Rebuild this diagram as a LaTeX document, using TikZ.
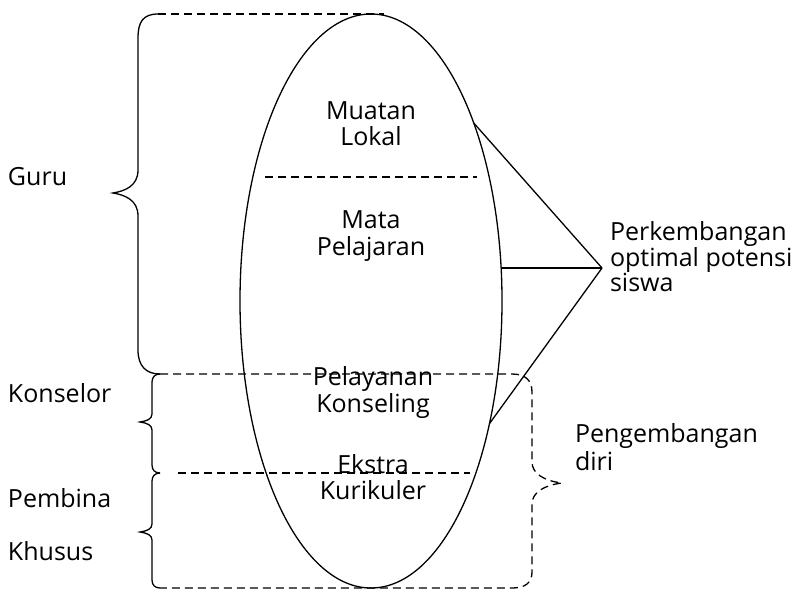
\documentclass[tikz,border=0pt]{standalone}
\usepackage{fontspec}
\setmainfont{Open Sans}
\usetikzlibrary{shapes.geometric}
\begin{document}
\begin{tikzpicture}[x=1pt,y=-1pt,
  line width=1.3pt,
  dsh/.style={dash pattern=on 8pt off 5pt},
  lbl/.style={inner sep=0pt, outer sep=0pt, font=\fontsize{25}{26}\selectfont},
  lblr/.style={lbl, align=left, anchor=base west},
  lblc/.style={lbl, align=center, anchor=base}]
\useasboundingbox (0,0) rectangle (802,590);
% ellipse
\node[draw, ellipse, minimum width=262pt, minimum height=574pt, inner sep=0pt, outer sep=0pt] (E) at (371,301) {};
% inner texts (anchor = baseline of last line)
\node[lblc] (ml) at (371,145) {Muatan\\Lokal};
\node[lblc, font=\fontsize{25}{27}\selectfont] (mp) at (371,255) {Mata\\Pelajaran};
\node[lblc, font=\fontsize{25}{27}\selectfont] (pk) at (373,412) {Pelayanan\\Konseling};
\node[lblc] (ek) at (373,499) {Ekstra\\Kurikuler};
% inner dashed separators
\coordinate (s1a) at (265,177); \coordinate (s1b) at (477,177);
\draw[dsh] (s1a) -- (s1b);
\coordinate (s2a) at (178,473); \coordinate (s2b) at (470,473);
\draw[dsh] (s2a) -- (s2b);
% left texts
\node[lblr] (guru) at (8,185) {Guru};
\node[lblr] (kons) at (8,402) {Konselor};
\node[lblr] (pemb) at (8,507) {Pembina};
\node[lblr] (khus) at (8,560) {Khusus};
% right texts
\node[lblr, font=\fontsize{25}{24.5}\selectfont] (perk) at (610,291) {Perkembangan\\optimal potensi\\siswa};
\node[lblr, font=\fontsize{25}{28}\selectfont] (peng) at (575,470) {Pengembangan\\diri};
% apex lines
\coordinate (apex) at (602,268);
\coordinate (mid) at (502,268);
\draw (E.60) -- (apex);
\draw (mid) -- (apex);
\draw (E.-46.5) -- (apex);
% corners
\coordinate (gtop) at (158,14);
\coordinate (gbot) at (160,374);
\coordinate (kbot) at (160,473);
\coordinate (pbot) at (160,588);
% top dashed line
\draw[dsh] (gtop) -- (384,14);
% Guru brace
\draw (gtop) .. controls (143,14) and (138,22) .. (138,38) -- (138,170)
      .. controls (138,186) and (125,191) .. (113,193)
      .. controls (125,195) and (138,200) .. (138,216) -- (138,350)
      .. controls (138,366) and (146,374) .. (gbot);
% Konselor brace
\draw (gbot) .. controls (155,374) and (152,377) .. (152,382) -- (152,414)
      .. controls (152,419) and (147,421) .. (140,422)
      .. controls (147,423) and (152,425) .. (152,430) -- (152,465)
      .. controls (152,470) and (155,473) .. (kbot);
% Pembina brace
\draw (kbot) .. controls (155,473) and (152,476) .. (152,481) -- (152,524)
      .. controls (152,529) and (147,531) .. (140,532)
      .. controls (147,533) and (152,535) .. (152,540) -- (152,580)
      .. controls (152,585) and (155,588) .. (pbot);
% right dashed brace (Pengembangan diri)
\draw[dsh] (gbot) -- (512,374)
      .. controls (525,374) and (532,380) .. (532,392) -- (532,462)
      .. controls (532,474) and (545,481) .. (562,483)
      .. controls (545,485) and (532,492) .. (532,504) -- (532,572)
      .. controls (532,583) and (525,588) .. (512,588) -- (pbot);
\end{tikzpicture}
\end{document}
